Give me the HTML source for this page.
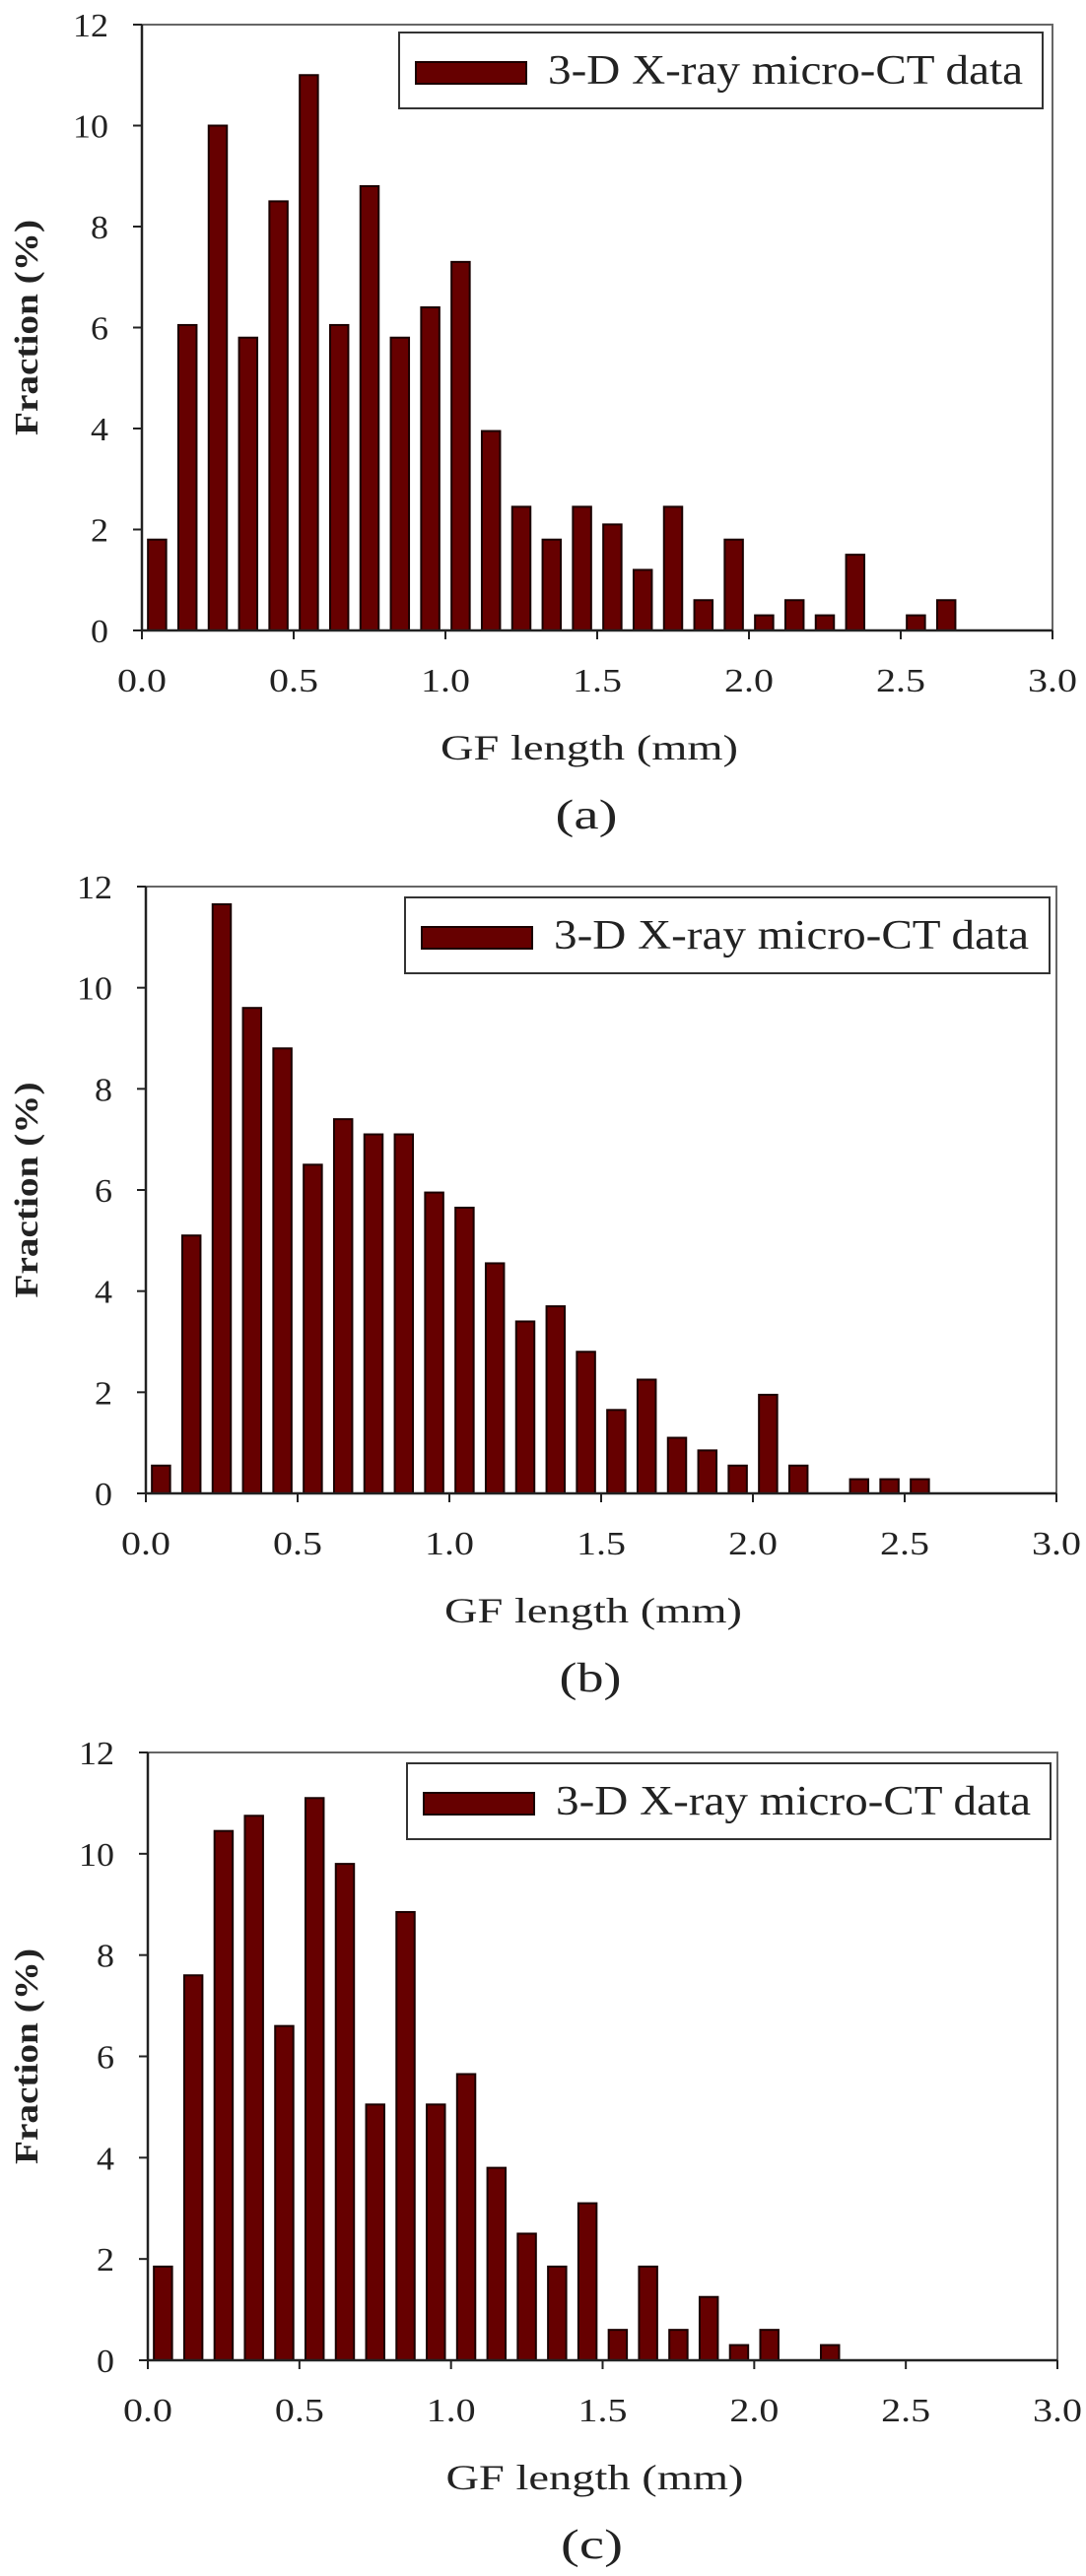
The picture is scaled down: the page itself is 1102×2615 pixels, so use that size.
<!DOCTYPE html>
<html><head><meta charset="utf-8">
<style>
html,body{margin:0;padding:0;background:#fff;}
svg{display:block;font-family:"Liberation Serif",serif;}
</style></head>
<body>
<svg id="fig" width="1102" height="2615" viewBox="0 0 1102 2615" xmlns="http://www.w3.org/2000/svg"></svg>
<script>
// Bin centers (mm) and fractions (%)
const binCenters = [0.05,0.15,0.25,0.35,0.45,0.55,0.65,0.75,0.85,0.95,1.05,1.15,1.25,1.35,1.45,1.55,1.65,1.75,1.85,1.95,2.05,2.15,2.25,2.35,2.45,2.55,2.65];
const seriesA = [1.8,6.05,10,5.8,8.5,11,6.05,8.8,5.8,6.4,7.3,3.95,2.45,1.8,2.45,2.1,1.2,2.45,0.6,1.8,0.3,0.6,0.3,1.5,0,0.3,0.6];
const seriesB = [0.55,5.1,11.65,9.6,8.8,6.5,7.4,7.1,7.1,5.95,5.65,4.55,3.4,3.7,2.8,1.65,2.25,1.1,0.85,0.55,1.95,0.55,0,0.28,0.28,0.28];
const seriesC = [1.85,7.6,10.45,10.75,6.6,11.1,9.8,5.05,8.85,5.05,5.65,3.8,2.5,1.85,3.1,0.6,1.85,0.6,1.25,0.3,0.6,0,0.3];
const xTicks = [0.0,0.5,1.0,1.5,2.0,2.5,3.0];
const xTickLabels = ["0.0","0.5","1.0","1.5","2.0","2.5","3.0"];
const yTicks = [0,2,4,6,8,10,12];
const yTickLabels = ["0","2","4","6","8","10","12"];
const panelLabels = ["(a)","(b)","(c)"];

const NS = "http://www.w3.org/2000/svg";
const svg = document.getElementById('fig');
function mk(tag, attrs, parent){
  const e = document.createElementNS(NS, tag);
  for (const k in attrs) e.setAttribute(k, attrs[k]);
  (parent||svg).appendChild(e);
  return e;
}
const panels = [
  {data: seriesA, x0:144, x3:1068, yTop:25, yBot:640, leg:[405,33,1058,110]},
  {data: seriesB, x0:148, x3:1072, yTop:900, yBot:1516, leg:[411,911,1065,988]},
  {data: seriesC, x0:150, x3:1073, yTop:1779, yBot:2396, leg:[413,1790,1066,1867]}
];
panels.forEach((p, pi) => {
  const g = mk('g', {});
  
  
  const xs = v => p.x0 + (p.x3 - p.x0) * v / 3;
  const ys = v => p.yBot - (p.yBot - p.yTop) * v / 12;
  const fr = mk('rect', {x:p.x0, y:p.yTop, width:p.x3-p.x0, height:p.yBot-p.yTop, fill:'none', stroke:'#666', 'stroke-width':2}, g);
  
  
  p.data.forEach((v, i) => {
    if (v <= 0) return;
    const c = binCenters[i];
    const bw = (xs(0.1) - xs(0)) * 0.6;
    const b = mk('rect', {x:xs(c)-bw/2, y:ys(v), width:bw, height:ys(0)-ys(v), fill:'#660000', stroke:'#1a0000', 'stroke-width':2}, g);
    
    
  });
  const ax = mk('line', {x1:p.x0, y1:p.yBot, x2:p.x3, y2:p.yBot, stroke:'#222', 'stroke-width':2.5}, g);
  
  
  const ay = mk('line', {x1:p.x0, y1:p.yTop, x2:p.x0, y2:p.yBot, stroke:'#222', 'stroke-width':2.5}, g);
  
  
  xTicks.forEach((t, i) => {
    mk('line', {x1:xs(t), y1:p.yBot, x2:xs(t), y2:p.yBot+9, stroke:'#222', 'stroke-width':2}, g);
    const tx = mk('text', {x:xs(t), y:p.yBot+62, 'font-size':34, 'text-anchor':'middle', fill:'#222', textLength:50, lengthAdjust:'spacingAndGlyphs'}, g);
    tx.textContent = xTickLabels[i];
    
    
  });
  yTicks.forEach((t, i) => {
    mk('line', {x1:p.x0-9, y1:ys(t), x2:p.x0, y2:ys(t), stroke:'#222', 'stroke-width':2}, g);
    const lab = yTickLabels[i];
    const ty = mk('text', {x:p.x0-34, y:ys(t)+12, 'font-size':34, 'text-anchor':'end', fill:'#222', textLength: lab.length*18, lengthAdjust:'spacingAndGlyphs'}, g);
    ty.textContent = lab;
    
    
  });
  const xt = mk('text', {x:(p.x0+p.x3)/2 - 8, y:p.yBot+131, 'font-size':36, 'text-anchor':'middle', fill:'#222', textLength:302, lengthAdjust:'spacingAndGlyphs'}, g);
  xt.textContent = 'GF length (mm)';
  
  
  const cy = (p.yTop + p.yBot) / 2;
  const yt = mk('text', {x:0, y:0, 'font-size':34, 'font-weight':'bold', 'text-anchor':'middle', fill:'#222', textLength:219, lengthAdjust:'spacingAndGlyphs', transform:`translate(38,${cy}) rotate(-90)`}, g);
  yt.textContent = 'Fraction (%)';
  
  
  const L = p.leg;
  const lg = mk('g', {}, g);
  
  
  mk('rect', {x:L[0], y:L[1], width:L[2]-L[0], height:L[3]-L[1], fill:'#fff', stroke:'#333', 'stroke-width':2}, lg);
  const sw = mk('rect', {x:L[0]+17, y:L[1]+30, width:112, height:22, fill:'#660000', stroke:'#1a0000', 'stroke-width':2}, lg);
  
  
  const lt = mk('text', {x:L[0]+151, y:L[1]+52, 'font-size':42, fill:'#222', textLength:482, lengthAdjust:'spacingAndGlyphs'}, lg);
  lt.textContent = '3-D X-ray micro-CT data';
  
  
  const pl = mk('text', {x:(p.x0+p.x3)/2 - 11, y:p.yBot+201, 'font-size':42, 'text-anchor':'middle', fill:'#222', textLength:63, lengthAdjust:'spacingAndGlyphs'}, g);
  pl.textContent = panelLabels[pi];
  
  
});
</script>
</body></html>
